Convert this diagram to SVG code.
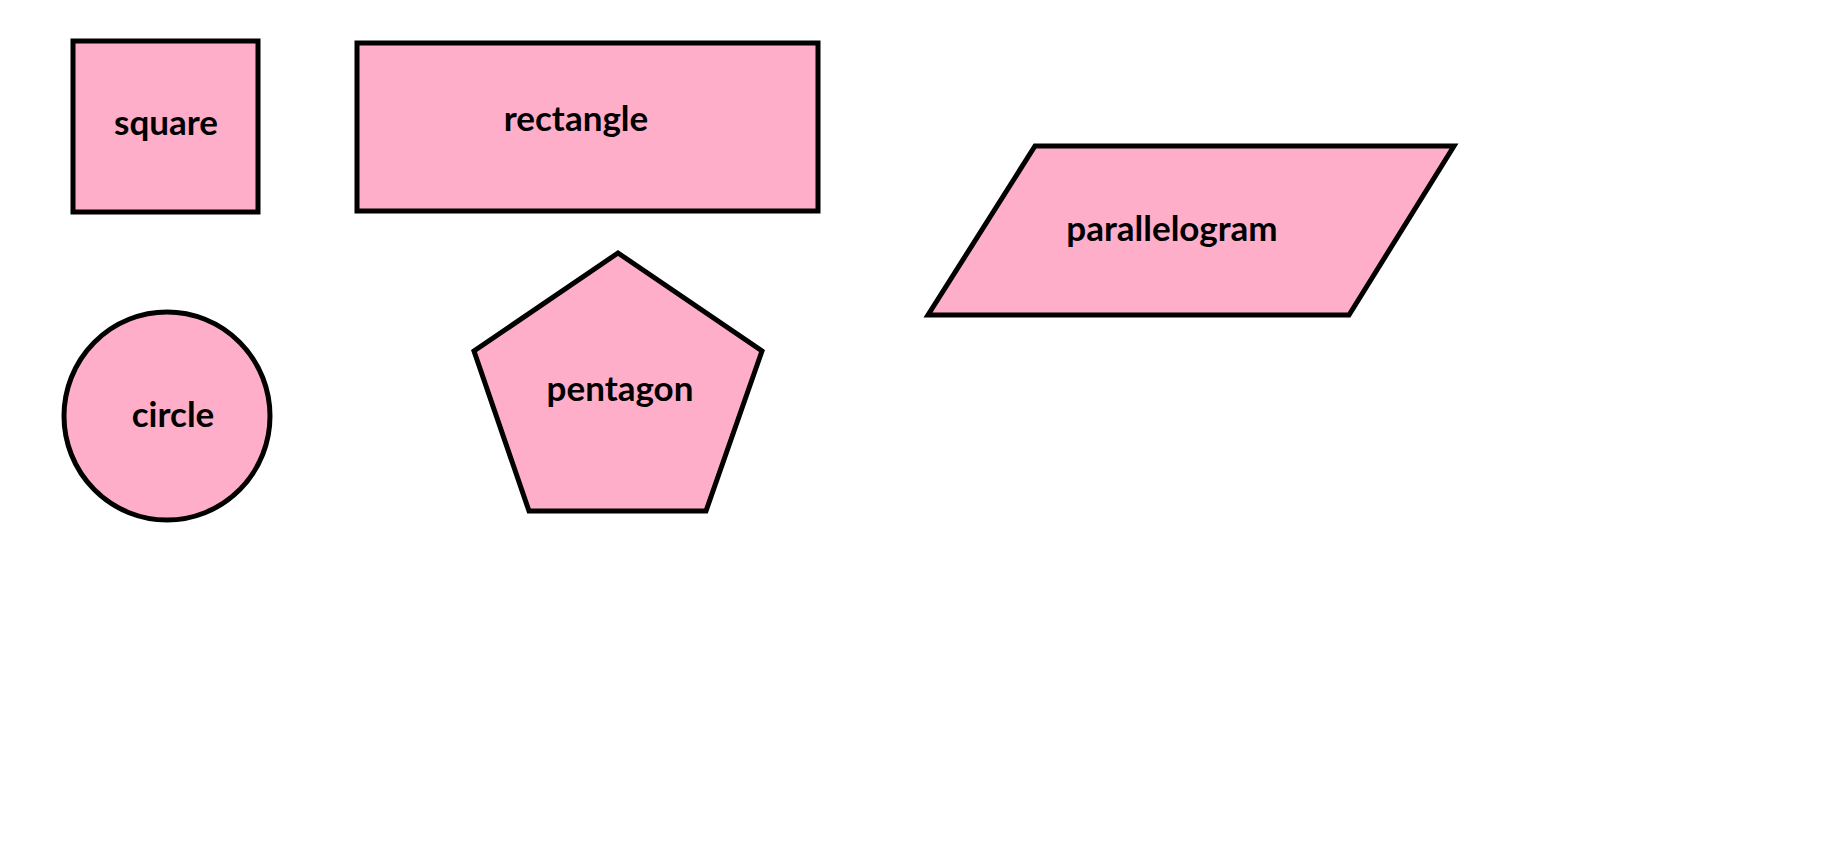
<svg xmlns="http://www.w3.org/2000/svg" width="1827" height="854" viewBox="0 0 1827 854">
<style>
.shape{fill:#FFAEC9;stroke:#000;stroke-width:5}
.lbl{font-family:Lato,"Liberation Sans",sans-serif;font-weight:bold;font-size:35px;fill:#000;text-anchor:middle}
</style>
<rect width="1827" height="854" fill="#fff"/>
<g id="square"><rect class="shape" x="73" y="41" width="185" height="171"/><text class="lbl" x="166" y="135">square</text></g>
<g id="rectangle"><rect class="shape" x="357" y="43" width="461" height="168"/><text class="lbl" x="576" y="131">rectangle</text></g>
<g id="parallelogram"><polygon class="shape" points="1035,146 1454,146 1349,315 928,315"/><text class="lbl" x="1172" y="241">parallelogram</text></g>
<g id="circle"><ellipse class="shape" cx="167" cy="416" rx="103" ry="104"/><text class="lbl" x="173" y="427">circle</text></g>
<g id="pentagon"><polygon class="shape" points="618,253 762,351 706,511 529,511 474,351"/><text class="lbl" x="620" y="401">pentagon</text></g>
<g id="connectors"/>
</svg>
